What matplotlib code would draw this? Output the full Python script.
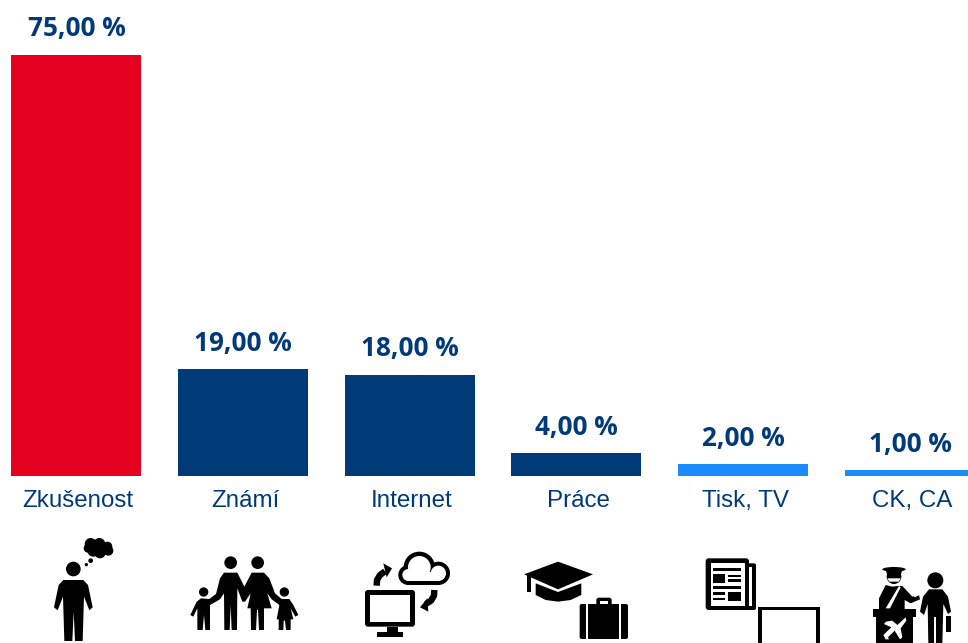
import matplotlib
matplotlib.use("Agg")
import matplotlib.pyplot as plt
from matplotlib.patches import Circle, Polygon, FancyBboxPatch, Rectangle, Ellipse

categories = ["Zkušenost", "Známí", "Internet", "Práce", "Tisk, TV", "CK, CA"]
values = [75, 19, 18, 4, 2, 1]
value_labels = ["75,00 %", "19,00 %", "18,00 %", "4,00 %", "2,00 %", "1,00 %"]
RED, NAVY, BLUE = "#e6001f", "#003a78", "#1a8cff"
bar_colors = [RED, NAVY, NAVY, NAVY, BLUE, BLUE]

W, H = 968, 643
fig = plt.figure(figsize=(W / 100, H / 100), dpi=100, facecolor="white")
base_px = 475.6
ax = fig.add_axes([0, 1 - base_px / H, 1, base_px / H])
step = 166.8
ax.set_xlim(-76 / step, (W - 76) / step)
ax.set_ylim(0, base_px / (421 / 75))
ax.axis("off")
xs = list(range(len(values)))
ax.bar(xs, values, width=130 / step, color=bar_colors)
for x, v, t in zip(xs, values, value_labels):
    ax.annotate(t, (x, v), xytext=(0.3, 18.6), textcoords="offset points", ha="center", va="center",
                color=NAVY, fontsize=18.8, fontweight="bold", family="Open Sans", annotation_clip=False)
for x, c in zip(xs, categories):
    ax.annotate(c, (x, 0), xytext=(1.5, -18.2), textcoords="offset points", ha="center", va="center",
                color=NAVY, fontsize=17.4, family="Liberation Sans", annotation_clip=False)

# decorative pictograms, in pixel space of the figure
ov = fig.add_axes([0, 0, 1, 1], facecolor="none")
ov.set_xlim(0, W)
ov.set_ylim(H, 0)
ov.axis("off")
K = "black"


def P(o, pts, c=K):
    ov.add_patch(Polygon([(o[0] + x / 3, o[1] + y / 3) for x, y in pts], closed=True, fc=c, ec="none"))


def C(o, x, y, r, c=K):
    ov.add_patch(Circle((o[0] + x / 3, o[1] + y / 3), r / 3, fc=c, ec="none"))


def R(o, x0, y0, x1, y1, c=K, rad=0):
    x, y, w, h = o[0] + x0 / 3, o[1] + y0 / 3, (x1 - x0) / 3, (y1 - y0) / 3
    if rad:
        ov.add_patch(FancyBboxPatch((x + rad, y + rad), w - 2 * rad, h - 2 * rad,
                                    boxstyle=f"round,pad={rad},rounding_size={rad}", fc=c, ec="none"))
    else:
        ov.add_patch(Rectangle((x, y), w, h, fc=c, ec="none"))


def S(o, pts, lw=4.6):
    ov.plot([o[0] + x / 3 for x, y in pts], [o[1] + y / 3 for x, y in pts], color=K, lw=lw,
            solid_capstyle="butt", solid_joinstyle="round")


L = (0, 530)
# thinking person
C(L, 220, 117, 22)
P(L, [(190, 150), (250, 150), (264, 165), (278, 232), (268, 241), (252, 200), (248, 333), (225, 333), (221, 245),
      (217, 333), (193, 333), (189, 200), (173, 241), (162, 232), (176, 165)])
for x, y, r in [(272, 42, 18), (298, 42, 18), (322, 50, 15), (325, 62, 15), (300, 68, 17), (280, 62, 18), (264, 55, 13)]:
    C(L, x, y, r)
C(L, 272, 92, 7)
C(L, 259, 104, 5)

# family
C(L, 692, 98, 19)
C(L, 773, 98, 19)
C(L, 611, 186, 14)
C(L, 853, 186, 14)
P(L, [(672, 128), (712, 128), (728, 160), (733, 170), (755, 128), (792, 128), (808, 145), (825, 190), (845, 207),
      (868, 207), (880, 225), (895, 255), (886, 260), (872, 235), (880, 268), (872, 268), (872, 300), (858, 300),
      (855, 272), (851, 272), (850, 300), (836, 300), (836, 268), (830, 268), (838, 225), (815, 208), (802, 190),
      (815, 235), (792, 235), (792, 300), (777, 300), (774, 240), (771, 240), (768, 300), (753, 300), (752, 235),
      (742, 235), (752, 190), (735, 215), (727, 215), (712, 175), (711, 300), (695, 300), (692, 225), (689, 300),
      (673, 300), (672, 190), (660, 208), (630, 225), (630, 300), (616, 300), (612, 255), (608, 300), (592, 300),
      (592, 235), (580, 260), (571, 255), (590, 215), (603, 205), (628, 207), (648, 192), (660, 145)])

# cloud, monitor, arrows
for x, y, r in [(1258, 112, 47), (1225, 135, 30), (1315, 130, 35)]:
    C(L, x, y, r)
R(L, 1225, 135, 1315, 165)
for x, y, r in [(1258, 112, 34), (1225, 135, 18), (1315, 130, 23)]:
    C(L, x, y, r, "white")
R(L, 1225, 125, 1315, 153, "white")
R(L, 1095, 180, 1245, 290, K, 3)
R(L, 1109, 195, 1231, 275, "white")
R(L, 1160, 290, 1195, 306)
R(L, 1130, 306, 1210, 321)
S(L, [(1130, 167), (1131, 150), (1140, 135), (1155, 124)])
P(L, [(1150, 100), (1176, 115), (1160, 142)])
S(L, [(1303, 180), (1302, 197), (1293, 212), (1278, 222)])
P(L, [(1260, 232), (1282, 205), (1285, 245)])

M = (484, 530)
# cap and suitcase
P(M, [(120, 133), (222, 95), (327, 133), (222, 178)])
P(M, [(155, 160), (222, 186), (292, 160), (292, 195), (260, 210), (222, 215), (185, 210), (155, 195)])
R(M, 130, 135, 140, 187)
R(M, 337, 203, 383, 232, K, 2.5)
R(M, 347, 212, 373, 232, "white")
R(M, 287, 222, 432, 327, K, 2)
R(M, 305, 222, 312, 327, "white")
R(M, 405, 222, 412, 327, "white")

# newspaper and blank screen
R(M, 785, 100, 816, 240, K, 2)
R(M, 665, 85, 795, 240, K, 3)
R(M, 680, 99, 782, 228, "white")
R(M, 795, 112, 804, 228, "white")
R(M, 785, 99, 795, 228, K)
for y0, y1 in [(113, 122), (168, 177)]:
    R(M, 687, y0, 772, y1)
R(M, 687, 132, 723, 158)
for y in [134, 148]:
    R(M, 733, y, 772, y + 8)
for y in [187, 203]:
    R(M, 687, y, 723, y + 7)
R(M, 733, 187, 772, 213)
R(M, 822, 230, 1007, 342)
R(M, 833, 241, 997, 342, "white")

# officer, desk, traveller
ov.add_patch(Ellipse((M[0] + 1230 / 3, M[1] + 118 / 3), 70 / 3, 14 / 3, fc=K, ec="none"))
P(M, [(1205, 120), (1255, 120), (1250, 135), (1210, 135)])
C(M, 1230, 140, 22)
P(M, [(1210, 145), (1250, 145), (1244, 155), (1216, 155)], "white")
P(M, [(1205, 165), (1225, 170), (1240, 168), (1255, 168), (1285, 200), (1305, 195), (1308, 208), (1280, 220),
      (1262, 210), (1262, 240), (1185, 240), (1185, 205)])
P(M, [(1245, 168), (1250, 172), (1218, 235), (1205, 235)], "white")
P(M, [(1283, 187), (1308, 175), (1316, 190), (1292, 202)], "white")
R(M, 1167, 236, 1296, 260)
R(M, 1175, 260, 1288, 342)
P(M, [(1225, 272), (1240, 285), (1265, 262), (1267, 272), (1250, 295), (1255, 322), (1248, 328), (1232, 302), (1212, 322),
      (1215, 328), (1205, 328), (1198, 315), (1222, 292), (1200, 282), (1206, 275)], "white")
C(M, 1354, 151, 24)
P(M, [(1335, 178), (1375, 178), (1392, 200), (1401, 245), (1392, 252), (1378, 222), (1375, 342), (1333, 342),
      (1331, 222), (1320, 255), (1308, 245), (1317, 200)])
R(M, 1351, 260, 1355, 342, "white")
R(M, 1385, 258, 1401, 306)

fig.savefig("out.png", dpi=100, facecolor="white")
